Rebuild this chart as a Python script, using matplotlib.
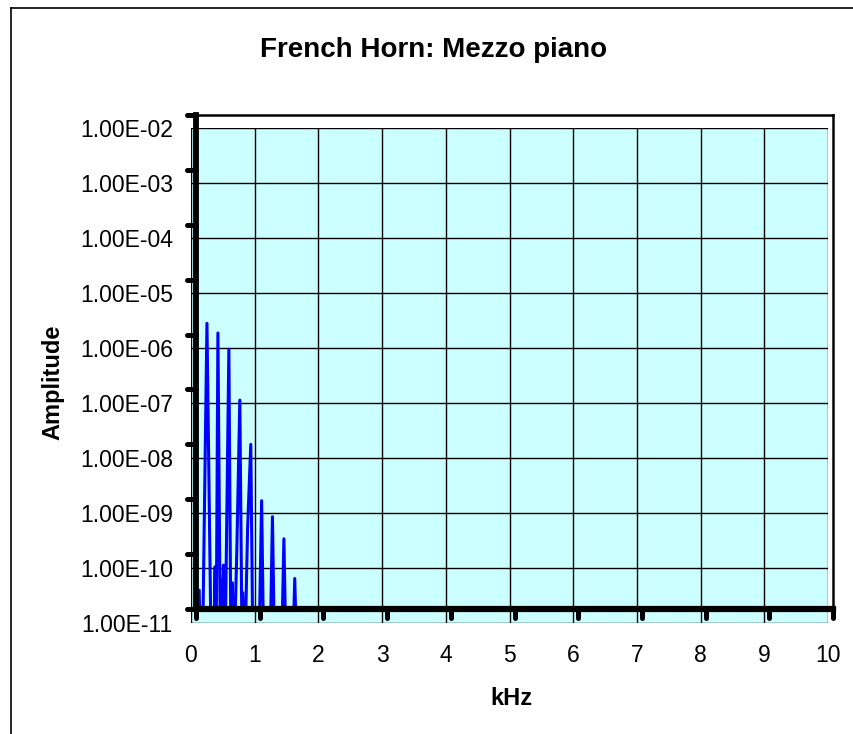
import numpy as np
import matplotlib
matplotlib.use("Agg")
import matplotlib.pyplot as plt
from matplotlib.lines import Line2D, TICKLEFT, TICKDOWN
from matplotlib.markers import MarkerStyle
from matplotlib.ticker import FixedLocator, FuncFormatter, NullLocator

plt.rcParams['font.family'] = ['Liberation Sans', 'DejaVu Sans']

# spectrum points (kHz, amplitude); 1e-12 = below floor
freq_khz = [0.000, 0.012, 0.025, 0.050, 0.075, 0.100, 0.172, 0.240, 0.275,
            0.300, 0.315, 0.344, 0.385, 0.392, 0.405, 0.430, 0.455, 0.516,
            0.550, 0.570, 0.595, 0.640, 0.688, 0.725, 0.732, 0.765, 0.810,
            0.860, 0.895, 0.985, 1.030, 1.065, 1.160, 1.200, 1.235, 1.340,
            1.380, 1.415, 1.515, 1.550, 1.585]
amplitude = [1.0e-12, 1.4e-11, 1.0e-12, 2.2e-11, 1.0e-12, 1.0e-12, 1.6e-06,
             1.0e-12, 1.0e-12, 5.9e-11, 1.0e-12, 1.07e-06, 1.0e-12, 3.4e-11,
             1.0e-12, 6.3e-11, 1.0e-12, 5.4e-07, 1.0e-12, 3.0e-11, 1.0e-12,
             1.05e-10, 6.4e-08, 1.0e-12, 2.0e-11, 1.0e-12, 3.0e-10, 1.0e-08,
             1.0e-12, 1.0e-12, 9.4e-10, 1.0e-12, 1.0e-12, 4.8e-10, 1.0e-12,
             1.0e-12, 1.9e-10, 1.0e-12, 1.0e-12, 3.6e-11, 1.0e-12]

x_ticks = [0, 1, 2, 3, 4, 5, 6, 7, 8, 9, 10]
y_ticks = [1e-11, 1e-10, 1e-9, 1e-8, 1e-7, 1e-6, 1e-5, 1e-4, 1e-3, 1e-2]

W, H = 854, 734
fig = plt.figure(figsize=(W / 100, H / 100), dpi=100)


def frac(left, top, right, bottom):
    return [left / W, (H - bottom) / H, (right - left) / W, (bottom - top) / H]


# cyan plot area with grid and tick labels (slightly offset, like the original)
bg = fig.add_axes(frac(191, 128, 828, 623))
bg.set_facecolor('#ccffff')
bg.set_xlim(0, 10)
bg.set_yscale('log')
bg.set_ylim(1e-11, 1e-2)
bg.xaxis.set_major_locator(FixedLocator(x_ticks))
bg.yaxis.set_major_locator(FixedLocator(y_ticks))
bg.yaxis.set_minor_locator(NullLocator())
bg.yaxis.set_major_formatter(FuncFormatter(lambda v, p: f"{v:.2E}"))
bg.xaxis.set_major_formatter(FuncFormatter(lambda v, p: f"{int(v)}"))
bg.grid(True, color='black', linewidth=1.0)
bg.tick_params(axis='both', length=0, labelsize=16.5)
bg.tick_params(axis='x', pad=15)
bg.tick_params(axis='y', pad=13)
for s in bg.spines.values():
    s.set_visible(False)

# data axes with heavy axis lines
ax = fig.add_axes(frac(196, 115, 833, 609))
ax.patch.set_alpha(0)
ax.plot(freq_khz, amplitude, color='#0000ff', linewidth=2.2, zorder=2)
ax.set_xlim(0, 10)
ax.set_yscale('log')
ax.set_ylim(1e-11, 1e-2)
ax.xaxis.set_major_locator(FixedLocator(x_ticks))
ax.yaxis.set_major_locator(FixedLocator(y_ticks))
ax.yaxis.set_minor_locator(NullLocator())
ax.tick_params(axis='both', length=6.5, width=3.6, color='black',
               labelleft=False, labelbottom=False, direction='out')
for t in ax.yaxis.get_major_ticks():
    t.tick1line.set_marker(MarkerStyle(TICKLEFT, capstyle='round'))
for t in ax.xaxis.get_major_ticks():
    t.tick1line.set_marker(MarkerStyle(TICKDOWN, capstyle='round'))
ax.spines['left'].set_linewidth(4.2)
ax.spines['bottom'].set_linewidth(4.5)
ax.spines['top'].set_linewidth(1.8)
ax.spines['right'].set_linewidth(1.8)
for s in ax.spines.values():
    s.set_zorder(3)

fig.text(434 / W, (H - 57) / H, "French Horn: Mezzo piano", fontsize=20,
         fontweight='bold', ha='center', va='baseline')
fig.text(511 / W, (H - 705) / H, "kHz", fontsize=17, fontweight='bold',
         ha='center', va='baseline')
fig.text(53 / W, (H - 382) / H, "Amplitude", fontsize=17, fontweight='bold',
         rotation=90, ha='center', va='center')

# chart border (only top and left edges fall inside the image)
fig.add_artist(Line2D([11.5 / W, 1], [(H - 7.5) / H] * 2, color='black', linewidth=1.2))
fig.add_artist(Line2D([11.5 / W] * 2, [0, (H - 7.5) / H], color='black', linewidth=1.2))

fig.savefig("out.png", dpi=100)
